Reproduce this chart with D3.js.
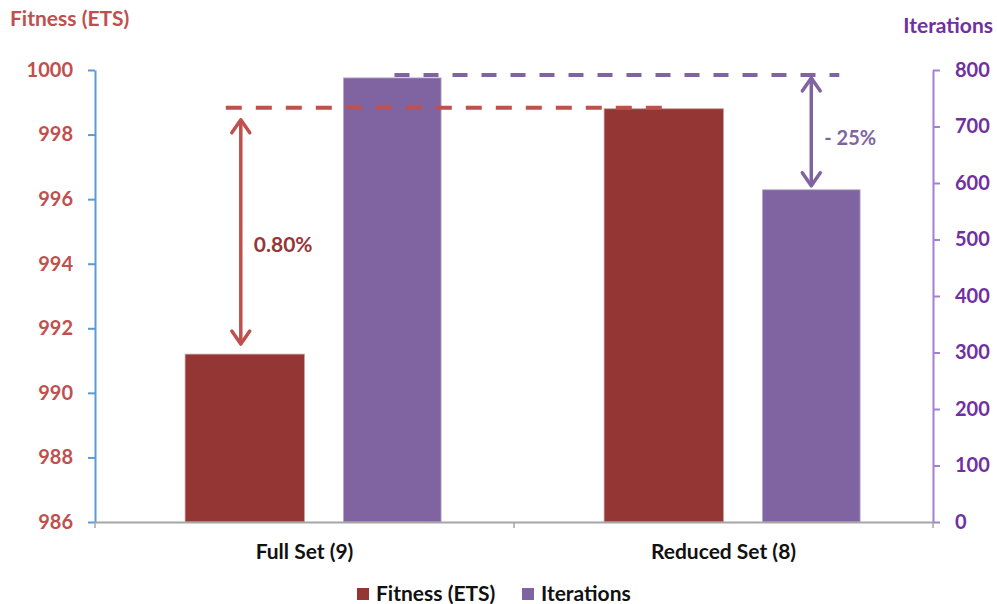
<!DOCTYPE html>
<html>
<head>
<meta charset="utf-8">
<script src="https://cdn.jsdelivr.net/npm/d3@7"></script>
<style>
  html, body { margin: 0; padding: 0; background: #fff; }
  svg { display: block; font-family: Lato, "Open Sans", sans-serif; font-weight: bold; }
</style>
</head>
<body>
<svg id="chart" width="997" height="604"></svg>
<script>
// Data
const categories = ["Full Set (9)", "Reduced Set (8)"];
const fitness = [991.2, 998.8];
const iterations = [786, 588];
const fitnessTicks = [986, 988, 990, 992, 994, 996, 998, 1000];
const iterationTicks = [0, 100, 200, 300, 400, 500, 600, 700, 800];
const seriesNames = ["Fitness (ETS)", "Iterations"];
const fitnessGapLabel = "0.80%";
const iterationGapLabel = "- 25%";

// Colours
const C = {
  fitBar: "#943634", iterBar: "#8064a2",
  fitText: "#c0504d", iterText: "#7030a0",
  fitLine: "#c0504d", iterLine: "#8064a2",
  leftAxis: "#5b9bd5", rightAxis: "#a47fd4", baseAxis: "#a6a6a6",
  fitNote: "#953735", iterNote: "#8064a2"
};

const svg = d3.select("#chart");
const plot = { left: 95, right: 933, top: 70, bottom: 522 };

const x = d3.scaleBand().domain(categories).range([plot.left, plot.right]);
const yL = d3.scaleLinear().domain([986, 1000]).range([plot.bottom, plot.top]);
const yR = d3.scaleLinear().domain([0, 800]).range([plot.bottom, plot.top]);
const bw = x.bandwidth();
const mid = c => x(c) + bw / 2;

// Bar placement inside each category band
const fitBar = { from: -0.285, to: 0.0 };
const iterBar = { from: 0.093, to: 0.326 };

// Bars
svg.append("g").selectAll("rect").data(categories).join("rect")
  .attr("x", c => mid(c) + fitBar.from * bw)
  .attr("width", (fitBar.to - fitBar.from) * bw)
  .attr("y", (c, i) => yL(fitness[i]))
  .attr("height", (c, i) => plot.bottom - yL(fitness[i]))
  .attr("fill", C.fitBar).attr("stroke", "#c9a3a2").attr("stroke-width", 0.8);

svg.append("g").selectAll("rect").data(categories).join("rect")
  .attr("x", c => mid(c) + iterBar.from * bw)
  .attr("width", (iterBar.to - iterBar.from) * bw)
  .attr("y", (c, i) => yR(iterations[i]))
  .attr("height", (c, i) => plot.bottom - yR(iterations[i]))
  .attr("fill", C.iterBar).attr("stroke", "#b7a6cc").attr("stroke-width", 0.8);

// Left axis (Fitness)
const gL = svg.append("g").attr("transform", `translate(${plot.left},0)`)
  .call(d3.axisLeft(yL).tickValues(fitnessTicks).tickFormat(d3.format("d"))
    .tickSize(7).tickPadding(15).tickSizeOuter(0));
gL.select(".domain").attr("stroke", C.leftAxis).attr("stroke-width", 2);
gL.selectAll(".tick line").attr("stroke", C.leftAxis).attr("stroke-width", 2);
gL.selectAll(".tick text").attr("fill", C.fitText).attr("font-size", 20)
  .attr("font-family", "Lato, sans-serif").attr("font-weight", "bold");

// Right axis (Iterations)
const gR = svg.append("g").attr("transform", `translate(${plot.right},0)`)
  .call(d3.axisRight(yR).tickValues(iterationTicks).tickFormat(d3.format("d"))
    .tickSize(7).tickPadding(15).tickSizeOuter(0));
gR.select(".domain").attr("stroke", C.rightAxis).attr("stroke-width", 2);
gR.selectAll(".tick line").attr("stroke", C.rightAxis).attr("stroke-width", 2);
gR.selectAll(".tick text").attr("fill", C.iterText).attr("font-size", 20)
  .attr("font-family", "Lato, sans-serif").attr("font-weight", "bold");

// Category axis
const gX = svg.append("g").attr("transform", `translate(0,${plot.bottom})`)
  .call(d3.axisBottom(x).tickSize(0).tickPadding(22));
gX.select(".domain").attr("stroke", C.baseAxis).attr("stroke-width", 2);
gX.selectAll(".tick text").attr("fill", "#111").attr("font-size", 21)
  .attr("font-family", "Lato, sans-serif").attr("font-weight", "bold");
// Category separators
svg.append("g").selectAll("line")
  .data([plot.left, x(categories[1]), plot.right]).join("line")
  .attr("x1", d => d).attr("x2", d => d)
  .attr("y1", plot.bottom).attr("y2", plot.bottom + 6)
  .attr("stroke", C.baseAxis).attr("stroke-width", 1.5);

// Axis titles
svg.append("text").attr("x", 10).attr("y", 26).attr("fill", C.fitText)
  .attr("font-size", 21).text(seriesNames[0]);
svg.append("text").attr("x", 993).attr("y", 33).attr("fill", C.iterText)
  .attr("text-anchor", "end").attr("font-size", 21).text(seriesNames[1]);

// Reference dashed lines at the best values
const fitBest = d3.max(fitness);
const iterBest = d3.max(iterations);
const fitArrowX = mid(categories[0]) + fitBar.from * bw / 2 - 4;
const iterArrowX = mid(categories[1]) + (iterBar.from + iterBar.to) / 2 * bw;

svg.append("line")
  .attr("x1", fitArrowX - 15).attr("x2", mid(categories[1]) - 56)
  .attr("y1", yL(fitBest) - 1).attr("y2", yL(fitBest) - 1)
  .attr("stroke", C.fitLine).attr("stroke-width", 4).attr("stroke-dasharray", "16 14");

svg.append("line")
  .attr("x1", mid(categories[0]) + 90).attr("x2", iterArrowX + 28)
  .attr("y1", yR(iterBest) - 3).attr("y2", yR(iterBest) - 3)
  .attr("stroke", C.iterLine).attr("stroke-width", 4).attr("stroke-dasharray", "15 14");

// Double-headed arrows
function arrow(xp, y1, y2, color, w) {
  const g = svg.append("g").attr("stroke", color).attr("stroke-width", w)
    .attr("fill", "none").attr("stroke-linecap", "round").attr("stroke-linejoin", "round");
  g.append("line").attr("x1", xp).attr("x2", xp).attr("y1", y1 + 2).attr("y2", y2 - 2);
  const h = 14, s = 9;
  g.append("path").attr("d", `M${xp - s},${y1 + h} L${xp},${y1 + 1} L${xp + s},${y1 + h}`);
  g.append("path").attr("d", `M${xp - s},${y2 - h} L${xp},${y2 - 1} L${xp + s},${y2 - h}`);
}
arrow(fitArrowX, yL(fitBest) + 10, yL(fitness[0]) - 9, C.fitLine, 3.5);
arrow(iterArrowX, yR(iterBest) - 1, yR(iterations[1]) - 3, C.iterLine, 3.5);

// Gap labels
svg.append("text").attr("x", fitArrowX + 13).attr("y", 252)
  .attr("fill", C.fitNote).attr("font-size", 21).text(fitnessGapLabel);
svg.append("text").attr("x", iterArrowX + 13).attr("y", 145)
  .attr("fill", C.iterNote).attr("font-size", 20).text(iterationGapLabel);

// Legend
const legend = svg.append("g").attr("transform", "translate(357,594)");
const legendItems = [
  { name: seriesNames[0], color: C.fitBar, dx: 0 },
  { name: seriesNames[1], color: C.iterBar, dx: 165 }
];
const li = legend.selectAll("g").data(legendItems).join("g")
  .attr("transform", d => `translate(${d.dx},0)`);
li.append("rect").attr("x", 0).attr("y", -6).attr("width", 12).attr("height", 12).attr("fill", d => d.color);
li.append("text").attr("x", 19).attr("y", 7).attr("fill", "#111").attr("font-size", 21).text(d => d.name);
</script>
</body>
</html>
